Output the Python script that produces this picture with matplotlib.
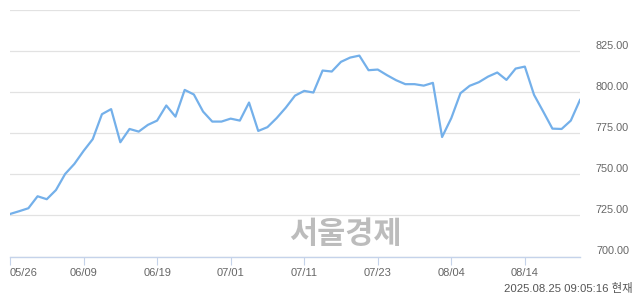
import matplotlib
matplotlib.use("Agg")
import matplotlib.pyplot as plt

# 일별 종가
prices = [
    725.9, 727.6, 729.4, 736.7, 734.9, 740.5, 750.3, 756.4, 764.3, 771.5,
    786.7, 789.8, 769.6, 777.7, 776.1, 780.2, 782.8, 792.0, 785.2, 801.5,
    798.7, 788.3, 782.2, 782.2, 784.0, 782.8, 793.8, 776.5, 778.8, 784.3,
    790.7, 798.0, 800.9, 799.9, 813.3, 812.7, 818.6, 821.2, 822.4, 813.5,
    813.9, 810.5, 807.4, 805.0, 805.0, 804.1, 805.8, 772.8, 784.3, 799.5,
    804.0, 806.2, 809.6, 812.1, 807.6, 814.5, 815.7, 798.5, 788.3, 777.9,
    777.7, 782.8, 795.4,
]
date_ticks = [0, 8, 16, 24, 32, 40, 48, 56]
date_labels = ["05/26", "06/09", "06/19", "07/01", "07/11", "07/23", "08/04", "08/14"]
y_ticks = [700, 725, 750, 775, 800, 825, 850]
y_labels = ["700.00", "725.00", "750.00", "775.00", "800.00", "825.00", ""]
stamp = "2025.08.25 09:05:16 현재"
watermark = "서울경제"

W, H = 640, 294
fig = plt.figure(figsize=(W / 100, H / 100), dpi=100)
ax = fig.add_axes([10 / W, (H - 256.5) / H, 570 / W, 246.2 / H])

ax.plot(range(len(prices)), prices, color="#74b0ea", lw=1.6, solid_joinstyle="round")
ax.set_xlim(0, len(prices) - 1)
ax.set_ylim(700, 850)

ax.set_yticks(y_ticks)
ax.set_yticklabels(y_labels)
ax.yaxis.tick_right()
ax.tick_params(axis="y", length=0, pad=35.3, labelsize=7.8, labelcolor="#666666")
for lab in ax.get_yticklabels():
    lab.set_horizontalalignment("right")
    lab.set_verticalalignment("bottom")
    lab.set_family("Liberation Sans")

ax.set_xticks(date_ticks)
ax.set_xticklabels(date_labels)
ax.tick_params(axis="x", length=6, width=0.8, color="#c5d3ea", pad=2,
               labelsize=8, labelcolor="#666666")
for lab in ax.get_xticklabels():
    lab.set_family("Liberation Sans")
ax.get_xticklabels()[0].set_horizontalalignment("left")

ax.grid(axis="y", color="#e2e2e2", lw=0.9)
ax.set_axisbelow(True)
for side in ["top", "left", "right"]:
    ax.spines[side].set_visible(False)
ax.spines["bottom"].set_color("#c5d3ea")
ax.spines["bottom"].set_linewidth(1)

# 워터마크
fig.text(345 / W, 1 - 234 / H, watermark, ha="center", va="center",
         fontsize=22, fontweight="heavy", color="#bcbcbc",
         family=["Noto Sans CJK KR"], zorder=0)
fig.text(633 / W, 1 - 288 / H, stamp, ha="right", va="center",
         fontsize=8.2, color="#555555", family=["Liberation Sans", "Noto Sans CJK KR"])

fig.savefig("out.png", dpi=100)
